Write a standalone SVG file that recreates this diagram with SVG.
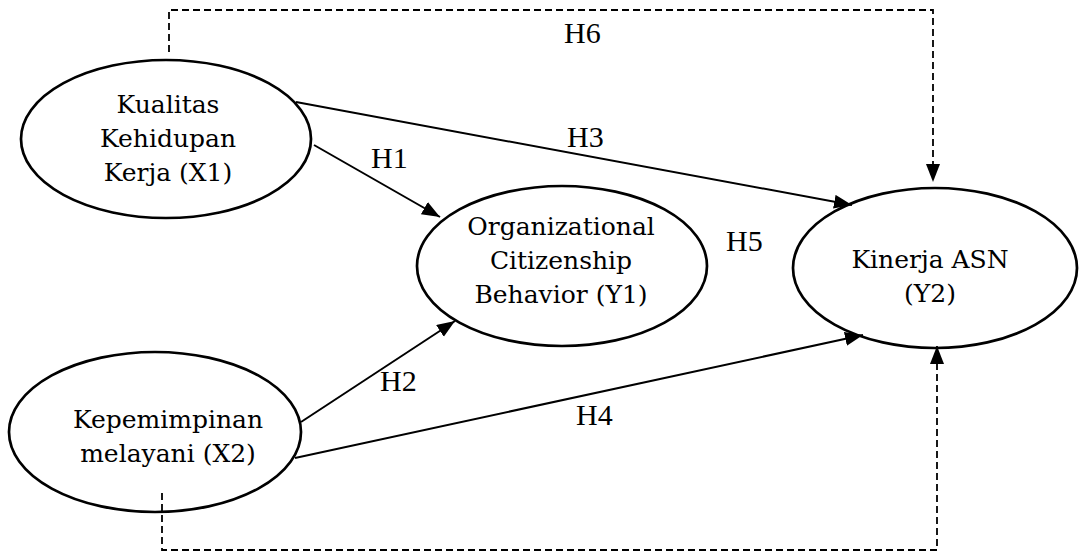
<svg xmlns="http://www.w3.org/2000/svg" width="1081" height="553" viewBox="0 0 1081 553">
<style>
.node{fill:#fff;stroke:#000;stroke-width:2.7}
.nt{font-family:"DejaVu Serif",serif;font-size:25px;fill:#000;text-anchor:middle}
.lbl{font-family:"Liberation Serif",serif;font-size:30px;fill:#000}
.c{fill:none;stroke:#000;stroke-width:2}
.d{fill:none;stroke:#000;stroke-width:1.8;stroke-dasharray:7 4}
</style>
<defs>
<marker id="ah" markerUnits="userSpaceOnUse" markerWidth="20" markerHeight="16" refX="18" refY="7" orient="auto">
<path d="M0,0 L18,7 L0,14 z" fill="#000"/>
</marker>
</defs>
<g id="X1">
<ellipse class="node" cx="166" cy="139" rx="145" ry="79"/>
<text class="nt" x="168" y="113">Kualitas</text>
<text class="nt" x="168" y="147">Kehidupan</text>
<text class="nt" x="168" y="181">Kerja (X1)</text>
</g>
<g id="X2">
<ellipse class="node" cx="155" cy="432" rx="146" ry="80"/>
<text class="nt" x="168" y="428">Kepemimpinan</text>
<text class="nt" x="168" y="462">melayani (X2)</text>
</g>
<g id="Y1">
<ellipse class="node" cx="562" cy="266" rx="145" ry="80"/>
<text class="nt" x="561" y="235">Organizational</text>
<text class="nt" x="561" y="269">Citizenship</text>
<text class="nt" x="561" y="303">Behavior (Y1)</text>
</g>
<g id="Y2">
<ellipse class="node" cx="935" cy="268" rx="142" ry="80"/>
<text class="nt" x="930" y="268">Kinerja ASN</text>
<text class="nt" x="930" y="302">(Y2)</text>
</g>
<g id="connectors">
<path class="d" d="M169,52 V10 H933 V182" marker-end="url(#ah)"/>
<path class="d" d="M162,493 V550 H937 V346" marker-end="url(#ah)"/>
<line class="c" x1="314" y1="145" x2="440" y2="217" marker-end="url(#ah)"/>
<line class="c" x1="296" y1="102" x2="852" y2="205" marker-end="url(#ah)"/>
<line class="c" x1="301" y1="422" x2="455" y2="321" marker-end="url(#ah)"/>
<line class="c" x1="295" y1="458" x2="863" y2="335" marker-end="url(#ah)"/>
<text class="lbl" x="564" y="43">H6</text>
<text class="lbl" x="567" y="147">H3</text>
<text class="lbl" x="371" y="168">H1</text>
<text class="lbl" x="726" y="251">H5</text>
<text class="lbl" x="380" y="391">H2</text>
<text class="lbl" x="576" y="425">H4</text>
</g>
</svg>
